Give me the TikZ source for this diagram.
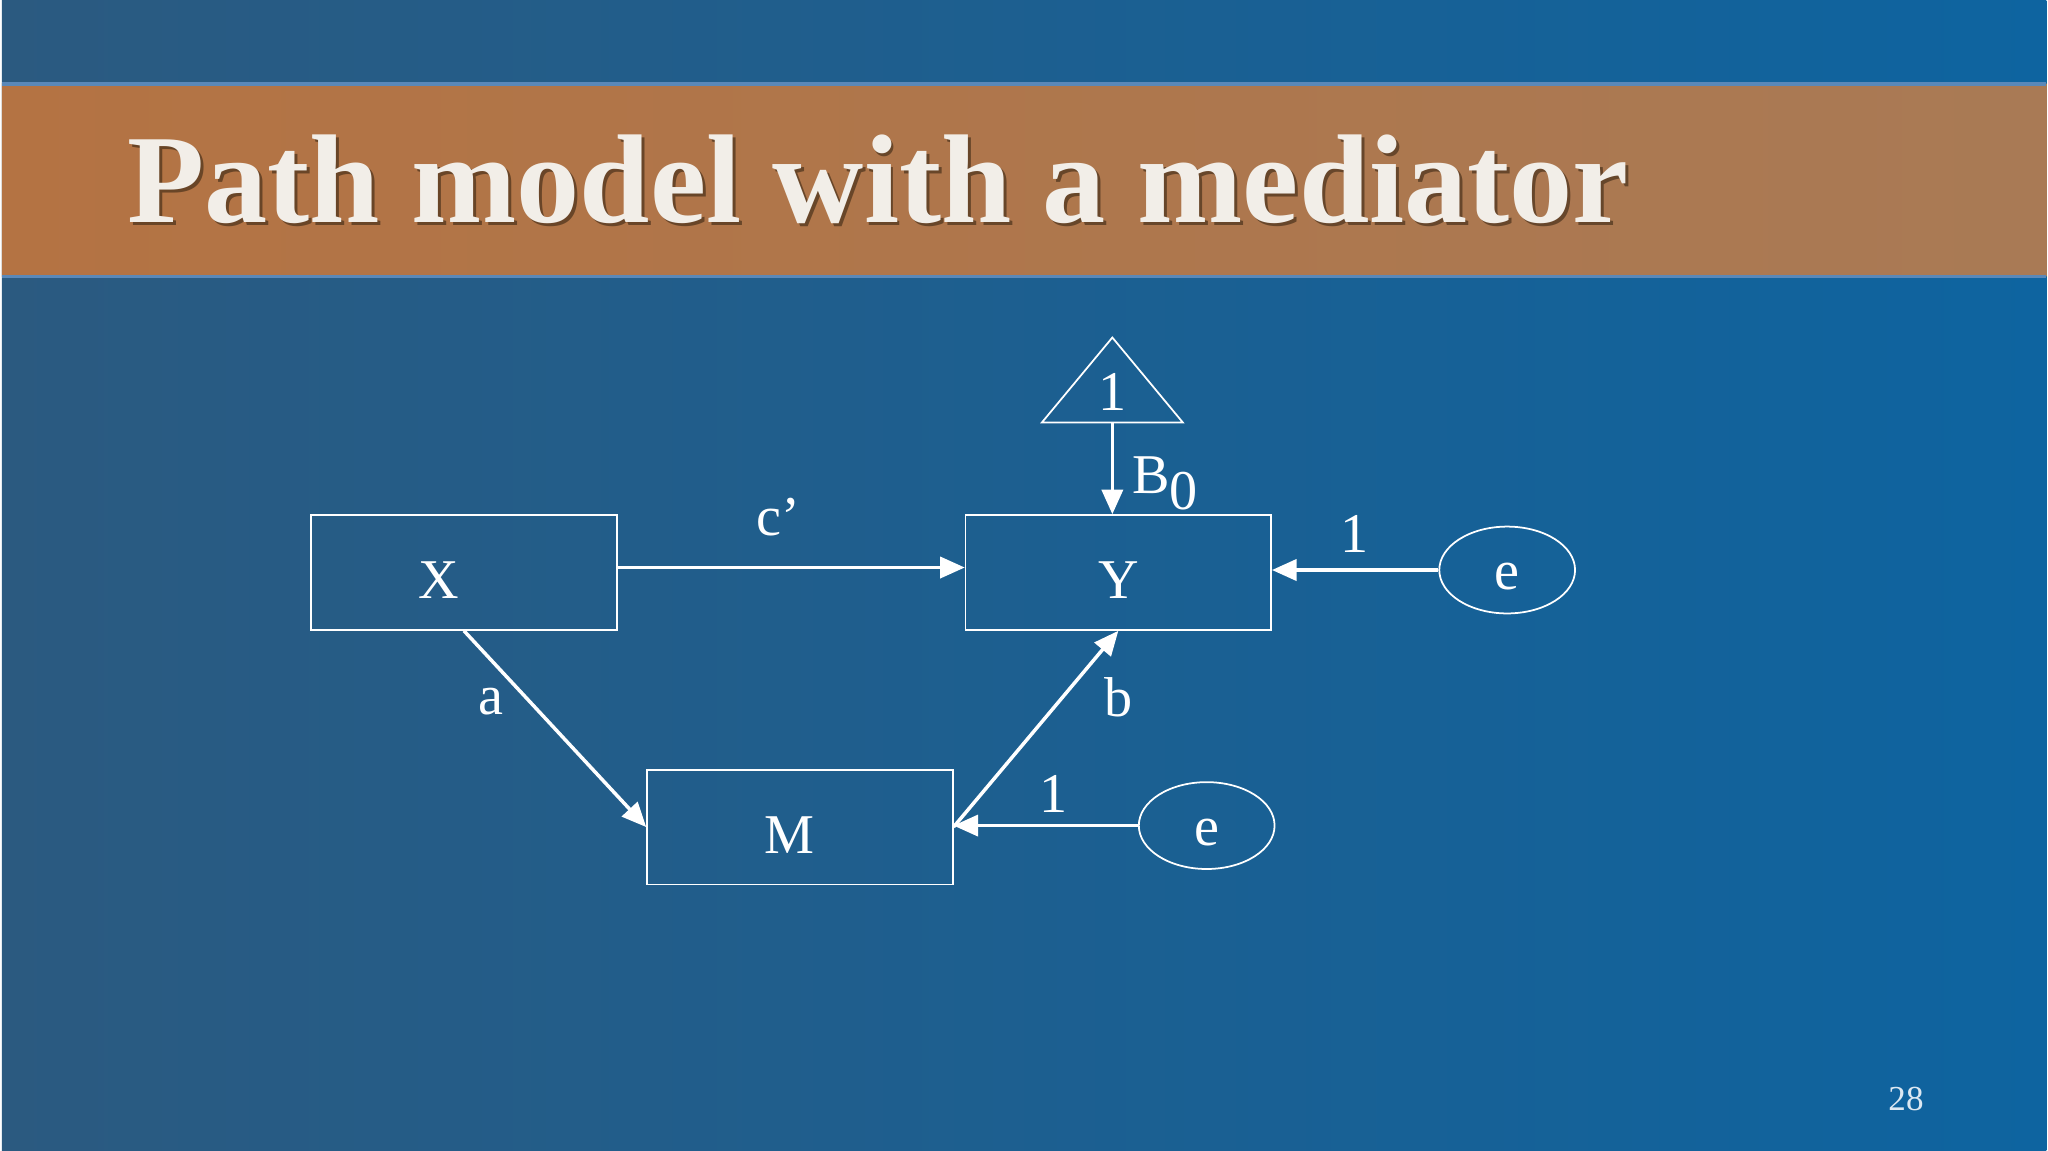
\documentclass[tikz,border=0pt]{standalone}
\usepackage{fontspec}
\setmainfont{Liberation Serif}
\usepackage{xcolor}
\usepackage{tikz}
\usetikzlibrary{shapes.geometric,arrows.meta}

\definecolor{bgleft}{HTML}{2B5A80}
\definecolor{bgright}{HTML}{0E64A0}
\definecolor{barleft}{HTML}{B47343}
\definecolor{barright}{HTML}{A97A55}
\definecolor{barline}{HTML}{5A88B8}
\definecolor{titletext}{HTML}{F2EEE8}
\definecolor{pagenum}{HTML}{DCE8F2}

\tikzset{
  varbox/.style={draw=white, line width=0.5pt, minimum width=3.06cm,
    minimum height=1.15cm, inner sep=0pt, text height=0.53cm, text depth=0pt,
    text=white, font=\fontsize{16}{18}\selectfont},
  errnode/.style={draw=white, ellipse, line width=0.5pt, minimum width=1.36cm,
    minimum height=0.87cm, inner sep=0pt, text height=0.39cm, text depth=0pt,
    text=white, font=\fontsize{16}{18}\selectfont},
  constnode/.style={draw=white, isosceles triangle, isosceles triangle stretches,
    shape border rotate=90, line width=0.5pt, minimum width=1.41cm,
    minimum height=0.85cm, inner sep=0pt, text=white, font=\fontsize{16}{18}\selectfont},
  pathlabel/.style={text=white, font=\fontsize{16}{18}\selectfont},
  patharrow/.style={draw=white, line width=1pt, -{Triangle[length=7pt,width=6pt]}}
}

\begin{document}
\begin{tikzpicture}
% slide background
\shade[left color=bgleft, right color=bgright] (0,0) rectangle (20.48,11.52);
\shade[left color=barleft, right color=barright] (0,8.75) rectangle (20.48,10.68);
\draw[barline, line width=1pt]
(0,10.68) -- (20.48,10.68)
(0,8.75) -- (20.48,8.75);
\useasboundingbox (0,0) rectangle (20.48,11.52);

\node[anchor=base west, inner sep=0pt, text=black!70!brown, opacity=0.6,
  font=\fontsize{36}{40}\selectfont\bfseries] at (1.28,9.26) {Path model with a mediator};
\node (title) [anchor=base west, inner sep=0pt, text=titletext,
  font=\fontsize{36}{40}\selectfont\bfseries] at (1.25,9.29) {Path model with a mediator};

% variables
\node (X) [varbox] at (4.63,5.785) {X\kern0.5cm};
\node (Y) [varbox] at (11.185,5.785) {Y};
\node (M) [varbox] at (7.995,3.235) {M\kern0.21cm};
\node (eY) [errnode] at (15.08,5.81) {e};
\node (eM) [errnode] at (12.07,3.25) {e};
\node (one) [constnode, anchor=south] at (11.125,7.28) {1};

% paths
\draw[patharrow] ([yshift=0.05cm]X.east) -- ([yshift=0.05cm]Y.west);
\draw[patharrow] (X.south) -- (M.west);
\draw[patharrow] (M.east) -- (Y.south);
\draw[patharrow] (one.south) -- (one.south |- Y.north);
\draw[patharrow] (eY.west) -- (Y.east |- eY.west);
\draw[patharrow] (eM.west) -- (M.east |- eM.west);

\node (lc) [pathlabel] at (7.78,6.34) {c’};
\node (lB) [pathlabel] at (11.66,6.68) {B$_{\textrm{0}}$};
\node (lY1) [pathlabel] at (13.55,6.17) {1};
\node (la) [pathlabel] at (4.90,4.49) {a};
\node (lb) [pathlabel] at (11.19,4.53) {b};
\node (lM1) [pathlabel] at (10.54,3.57) {1};

\node (page) [text=pagenum, font=\fontsize{10}{12}\selectfont] at (19.075,0.51) {28};
\end{tikzpicture}
\end{document}
